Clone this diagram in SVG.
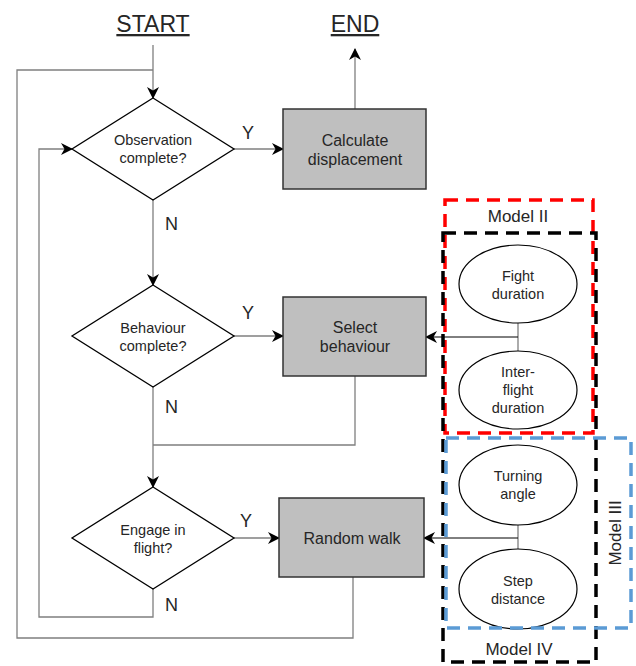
<svg xmlns="http://www.w3.org/2000/svg" width="636" height="666" viewBox="0 0 636 666">
<defs>
<marker id="arr" viewBox="0 0 12 12" refX="11" refY="6" markerWidth="12" markerHeight="12" markerUnits="userSpaceOnUse" orient="auto">
<path d="M0,0 L12,6 L0,12 L3.5,6 Z" fill="#000"/>
</marker>
<style>
text{font-family:"Liberation Sans",Arial,sans-serif;fill:#262626;text-anchor:middle}
.t{font-size:14.5px}
.b{font-size:16px}
.yn{font-size:18px;text-anchor:start}
.h{font-size:23px;text-decoration:underline}
.m{font-size:17px}
.dia{fill:#fff;stroke:#000;stroke-width:1.3}
.box{fill:#bfbfbf;stroke:#333;stroke-width:1.5}
.ell{fill:#fff;stroke:#000;stroke-width:1.2}
.c{fill:none;stroke:#7f7f7f;stroke-width:1.3}
.ca{fill:none;stroke:#7f7f7f;stroke-width:1.3;marker-end:url(#arr)}
.ck{fill:none;stroke:#000;stroke-width:1;marker-end:url(#arr)}
.dr{fill:none;stroke:#ff0000;stroke-width:3.5;stroke-dasharray:13 8}
.dk{fill:none;stroke:#000;stroke-width:3.5;stroke-dasharray:13 8}
.db{fill:none;stroke:#5b9bd5;stroke-width:3.5;stroke-dasharray:13 8}
</style>
</defs>

<g id="connectors">
<path class="ca" d="M153,45 V98"/>
<path class="c" d="M353,577 V638 H17 V70 H153"/>
<path class="ca" d="M153,589 V617 H39 V149 H72"/>
<path class="ca" d="M234,149 H283"/>
<path class="ca" d="M355,109 V49"/>
<path class="ca" d="M153,200 V285"/>
<path class="ca" d="M234,336 H283"/>
<path class="c" d="M355,376 V445 H153"/>
<path class="ca" d="M153,387 V487"/>
<path class="ca" d="M234,538 H279"/>
<path class="c" d="M518,323 V351"/>
<path class="ck" d="M518,337 H426"/>
<path class="c" d="M518,525 V549"/>
<path class="ck" d="M518,538 H424"/>
</g>

<g id="start"><text class="h" x="153" y="32">START</text></g>
<g id="end"><text class="h" x="355" y="32">END</text></g>

<g id="d1">
<polygon class="dia" points="153,98 234,149 153,200 72,149"/>
<text class="t" x="153" y="145">Observation</text>
<text class="t" x="153" y="163">complete?</text>
</g>
<g id="b1">
<rect class="box" x="283" y="109" width="143" height="80"/>
<text class="b" x="355" y="146">Calculate</text>
<text class="b" x="355" y="165">displacement</text>
</g>

<g id="d2">
<polygon class="dia" points="153,285 234,336 153,387 72,336"/>
<text class="t" x="153" y="333">Behaviour</text>
<text class="t" x="153" y="351">complete?</text>
</g>
<g id="b2">
<rect class="box" x="283" y="297" width="143" height="79"/>
<text class="b" x="355" y="333">Select</text>
<text class="b" x="355" y="352">behaviour</text>
</g>

<g id="d3">
<polygon class="dia" points="153,487 234,538 153,589 72,538"/>
<text class="t" x="153" y="535">Engage in</text>
<text class="t" x="153" y="553">flight?</text>
</g>
<g id="b3">
<rect class="box" x="279" y="498" width="145" height="79"/>
<text class="b" x="352" y="544">Random walk</text>
</g>

<g id="labels">
<text class="yn" x="242" y="139">Y</text>
<text class="yn" x="165" y="230">N</text>
<text class="yn" x="242" y="319">Y</text>
<text class="yn" x="165" y="413">N</text>
<text class="yn" x="240" y="527">Y</text>
<text class="yn" x="165" y="611">N</text>
</g>

<g id="e1">
<ellipse class="ell" cx="518" cy="284" rx="59" ry="39"/>
<text class="t" x="518" y="281">Fight</text>
<text class="t" x="518" y="299">duration</text>
</g>
<g id="e2">
<ellipse class="ell" cx="518" cy="390" rx="59" ry="39"/>
<text class="t" x="518" y="377">Inter-</text>
<text class="t" x="518" y="395">flight</text>
<text class="t" x="518" y="413">duration</text>
</g>
<g id="e3">
<ellipse class="ell" cx="518" cy="485" rx="59" ry="40"/>
<text class="t" x="518" y="481">Turning</text>
<text class="t" x="518" y="499">angle</text>
</g>
<g id="e4">
<ellipse class="ell" cx="518" cy="589" rx="59" ry="40"/>
<text class="t" x="518" y="586">Step</text>
<text class="t" x="518" y="604">distance</text>
</g>

<g id="model2">
<rect class="dr" x="445" y="200" width="148" height="233"/>
<text class="m" x="518" y="222">Model II</text>
</g>
<g id="model4">
<rect class="dk" x="443" y="233" width="153" height="429"/>
<text class="m" x="519" y="655">Model IV</text>
</g>
<g id="model3">
<rect class="db" x="446" y="438" width="185" height="190"/>
<text class="m" transform="translate(621,533) rotate(-90)" x="0" y="0">Model III</text>
</g>
</svg>
